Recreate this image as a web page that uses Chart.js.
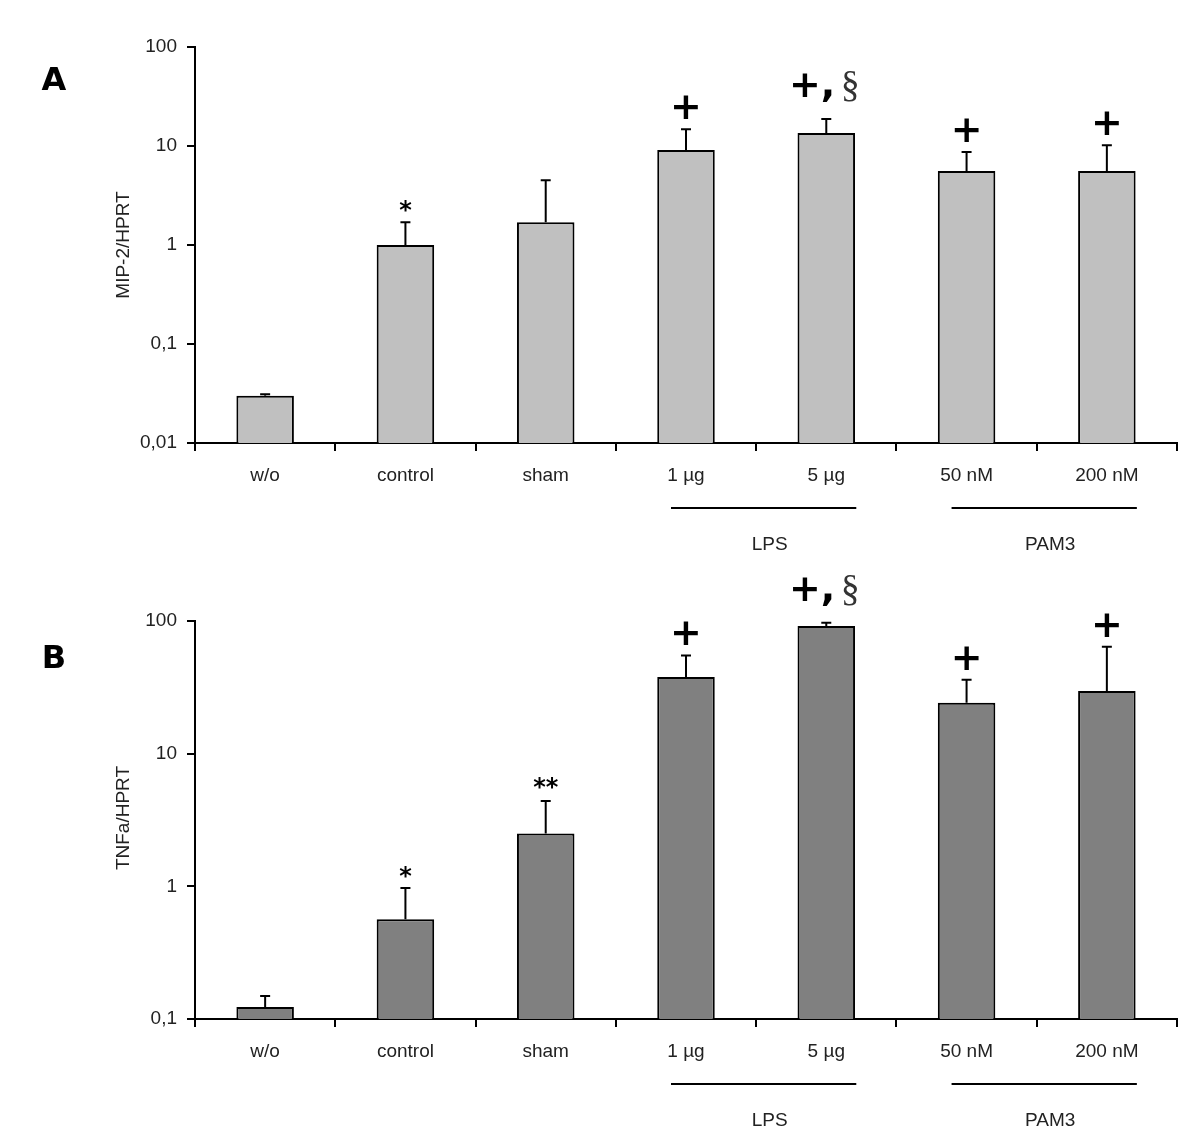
<!DOCTYPE html>
<html>
<head>
<meta charset="utf-8">
<script src="https://cdn.jsdelivr.net/npm/chart.js@4.4.1/dist/chart.umd.min.js"></script>
<style>
  body { margin: 0; background: #fff; }
  .panel { position: absolute; left: 0; width: 1200px; height: 572px; }
</style>
</head>
<body>
<div class="panel" style="top:0"><canvas id="chartA"></canvas></div>
<div class="panel" style="top:572px"><canvas id="chartB"></canvas></div>
<script>
const categories = ['w/o', 'control', 'sham', '1 µg', '5 µg', '50 nM', '200 nM'];

// panel A : MIP-2/HPRT
const mip2Values = [0.03, 1.0, 1.7, 9.1, 13.5, 5.6, 5.6];
const mip2ErrTop = [0.031, 1.7, 4.5, 14.8, 18.7, 8.7, 10.2];
const mip2Marks = ['', '*', '', '+', '+, §', '+', '+'];
const mip2Ticks = [0.01, 0.1, 1, 10, 100];

// panel B : TNFa/HPRT
const tnfValues = [0.123, 0.565, 2.5, 37.9, 91.7, 24.2, 29.7];
const tnfErrTop = [0.149, 0.97, 4.4, 55, 97, 36, 64];
const tnfMarks = ['', '*', '**', '+', '+, §', '+', '+'];
const tnfTicks = [0.1, 1, 10, 100];

const groups = [
  { label: 'LPS', from: 3, to: 4 },
  { label: 'PAM3', from: 5, to: 6 }
];

const FONT = '"Liberation Sans", Arial, sans-serif';

// mark offsets above the error bar (px)
const markOffset = { '+': 20, '*': 16, '**': 18, '+, §': 32 };

function fmtTick(v) {
  return String(v).replace('.', ',');
}

function makeChart(id, opts) {
  const extras = {
    id: 'extras',
    afterDatasetsDraw(chart) {
      const c = chart.ctx;
      const x = chart.scales.x, y = chart.scales.y;
      c.save();
      // error bars
      c.strokeStyle = '#000';
      c.lineWidth = 2;
      opts.err.forEach((e, i) => {
        const px = x.getPixelForValue(i);
        const top = y.getPixelForValue(e);
        const base = y.getPixelForValue(opts.values[i]);
        c.beginPath();
        c.moveTo(px, base);
        c.lineTo(px, top);
        c.moveTo(px - 5, top);
        c.lineTo(px + 5, top);
        c.stroke();
      });
      // significance marks
      c.fillStyle = '#000';
      c.textBaseline = 'middle';
      const plusFont = 'bold 38px "DejaVu Sans", sans-serif';
      opts.marks.forEach((m, i) => {
        if (!m) return;
        const px = x.getPixelForValue(i);
        const py = y.getPixelForValue(opts.err[i]) - (markOffset[m] || 18);
        if (m === '+, §') {
          c.font = plusFont;
          const wa = c.measureText('+,').width;
          c.font = '38px "Liberation Serif", serif';
          const wb = c.measureText(' §').width;
          const sx = px - (wa + wb) / 2;
          c.textAlign = 'left';
          c.font = plusFont;
          c.fillText('+,', sx, py);
          c.font = '38px "Liberation Serif", serif';
          c.fillStyle = '#333';
          c.fillText(' §', sx + wa - 4, py);
          c.fillStyle = '#000';
        } else if (m === '+') {
          c.textAlign = 'center';
          c.font = plusFont;
          c.fillText(m, px, py);
        } else {
          c.textAlign = 'center';
          c.font = 'bold 24px "DejaVu Sans", sans-serif';
          c.fillText(m, px, py + 6);
        }
      });
      // treatment group lines and labels
      const ab = chart.chartArea.bottom;
      c.strokeStyle = '#000';
      c.lineWidth = 2;
      c.textAlign = 'center';
      c.font = '19px ' + FONT;
      c.fillStyle = '#222';
      groups.forEach(g => {
        const x0 = x.getPixelForValue(g.from) - 15;
        const x1 = x.getPixelForValue(g.to) + 30;
        c.beginPath();
        c.moveTo(x0, ab + 65);
        c.lineTo(x1, ab + 65);
        c.stroke();
        c.fillText(g.label, (x0 + x1) / 2 + 6, ab + 102);
      });
      // y title
      c.save();
      c.translate(opts.titleX, (chart.chartArea.top + chart.chartArea.bottom) / 2 + opts.titleDy);
      c.rotate(-Math.PI / 2);
      c.font = '19px ' + FONT;
      c.fillText(opts.title, 0, 0);
      c.restore();
      // panel letter
      c.font = 'bold 32px "DejaVu Sans", sans-serif';
      c.fillStyle = '#000';
      c.textAlign = 'center';
      c.fillText(opts.letter, 54, opts.letterY);
      c.restore();
    }
  };

  return new Chart(document.getElementById(id), {
    type: 'bar',
    data: {
      labels: categories,
      datasets: [{
        data: opts.values,
        backgroundColor: opts.color,
        borderColor: '#000',
        borderWidth: 2,
        borderSkipped: 'bottom',
        barPercentage: 0.41,
        categoryPercentage: 1.0
      }]
    },
    options: {
      responsive: true,
      maintainAspectRatio: false,
      animation: false,
      layout: { padding: { top: opts.padTop, right: 23, left: 0, bottom: 0 } },
      plugins: { legend: { display: false }, tooltip: { enabled: false } },
      scales: {
        x: {
          afterFit(s) { s.height = opts.xHeight; },
          grid: { offset: true, drawOnChartArea: false, color: '#000', lineWidth: 2, tickLength: 8 },
          border: { color: '#000', width: 2 },
          ticks: { color: '#222', font: { family: FONT, size: 19 }, padding: 13, maxRotation: 0 }
        },
        y: {
          type: 'logarithmic',
          min: opts.ticks[0],
          max: opts.ticks[opts.ticks.length - 1],
          afterFit(s) { s.width = 195; },
          afterBuildTicks(s) { s.ticks = opts.ticks.map(v => ({ value: v })); },
          grid: { drawOnChartArea: false, color: '#000', lineWidth: 2, tickLength: 8 },
          border: { color: '#000', width: 2 },
          ticks: { color: '#222', font: { family: FONT, size: 19 }, padding: 10, callback: v => fmtTick(v) }
        }
      }
    },
    plugins: [extras]
  });
}

makeChart('chartA', {
  values: mip2Values, err: mip2ErrTop, marks: mip2Marks, ticks: mip2Ticks,
  color: '#c0c0c0', padTop: 47, xHeight: 129,
  title: 'MIP-2/HPRT', titleX: 124, titleDy: 0, letter: 'A', letterY: 82
});

makeChart('chartB', {
  values: tnfValues, err: tnfErrTop, marks: tnfMarks, ticks: tnfTicks,
  color: '#808080', padTop: 49, xHeight: 125,
  title: 'TNFa/HPRT', titleX: 124, titleDy: -2, letter: 'B', letterY: 88
});
</script>
</body>
</html>
